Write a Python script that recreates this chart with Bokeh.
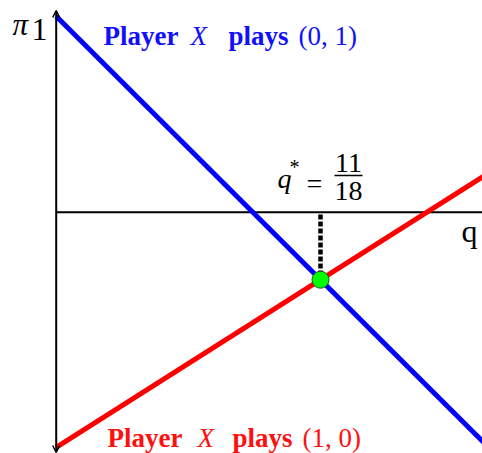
from bokeh.plotting import figure
from bokeh.models import Range1d, Arrow, OpenHead
from bokeh.core.properties import value
from bokeh.embed import file_html
from bokeh.resources import INLINE
import numpy as np

# Expected payoff of player 1 as a function of q
q_vals = [0.0, 1.0]
payoff_x01 = [5.0, -6.0]   # Player X plays (0,1)
payoff_x10 = [-6.0, 1.0]   # Player X plays (1,0)
q_star = 11 / 18
q_star_num, q_star_den = "11", "18"

pi_star = float(np.interp(q_star, q_vals, payoff_x01))

# pixel <-> data helpers used to place the annotations
X0, SX = 55.7, 432.5
Y0, SY = 211.7, 39.2
TEXT_SHIFT = 10  # baseline correction for text glyphs


def qx(px):
    return (px - X0) / SX


def py(px):
    return (Y0 - px) / SY


W, H = 482, 453
p = figure(width=W, height=H, x_range=Range1d(qx(0), qx(W)), y_range=Range1d(py(H), py(0)),
           output_backend="svg", toolbar_location=None, min_border=0)
p.xaxis.visible = False
p.yaxis.visible = False
p.grid.visible = False
p.outline_line_color = None
p.background_fill_color = "white"
p.border_fill_color = "white"

SERIF = value("Liberation Serif")

# axes
p.line([0, qx(W)], [0, 0], line_color="black", line_width=2)
p.add_layout(Arrow(x_start=0, y_start=py(452), x_end=0, y_end=py(10),
                   line_color="black", line_width=2,
                   start=OpenHead(size=7, line_width=1.5, line_color="black"),
                   end=OpenHead(size=7, line_width=1.5, line_color="black")))

# payoff lines
p.line(q_vals, payoff_x01, line_color="#0000ff", line_width=5)
p.line(q_vals, payoff_x10, line_color="#ff0000", line_width=5)

# dotted drop line and equilibrium point
p.line([q_star, q_star], [py(214), pi_star],
       line_color="black", line_width=4.5, line_dash="5 2")
p.scatter([q_star], [pi_star], size=17, fill_color="#00ff00", line_color="#1a5a1a", line_width=1)


def txt(px, pyy, s, size, color="black", style="normal", align="left"):
    p.text(x=[qx(px)], y=[py(pyy - TEXT_SHIFT)], text=[s], text_font=SERIF, text_font_size=size,
           text_font_style=style, text_color=color, text_align=align,
           text_baseline="alphabetic")


# axis names
txt(12, 34, "π", "31px", style="italic")
txt(31, 39, "1", "32px")
txt(461, 240, "q", "32px")

# line labels
blue = "#1010ff"
txt(103, 45, "Player", "27px", blue, "bold")
txt(190, 45, "X", "27px", blue, "italic")
txt(228, 45, "plays", "27px", blue, "bold")
txt(298, 45, "(0, 1)", "27px", blue)

red = "#ff1010"
txt(107, 447, "Player", "27px", red, "bold")
txt(197, 447, "X", "27px", red, "italic")
txt(232, 447, "plays", "27px", red, "bold")
txt(302, 447, "(1, 0)", "27px", red)

# q* = 11/18
txt(277, 188, "q", "28px", style="italic")
txt(289, 176, "*", "20px")
txt(306, 193, "=", "28px")
txt(348, 172, q_star_num, "28px", align="center")
txt(348, 200, q_star_den, "28px", align="center")
p.line([qx(334), qx(362)], [py(175), py(175)], line_color="black", line_width=1.3)

open("out.html", "w").write(file_html(p, INLINE))
